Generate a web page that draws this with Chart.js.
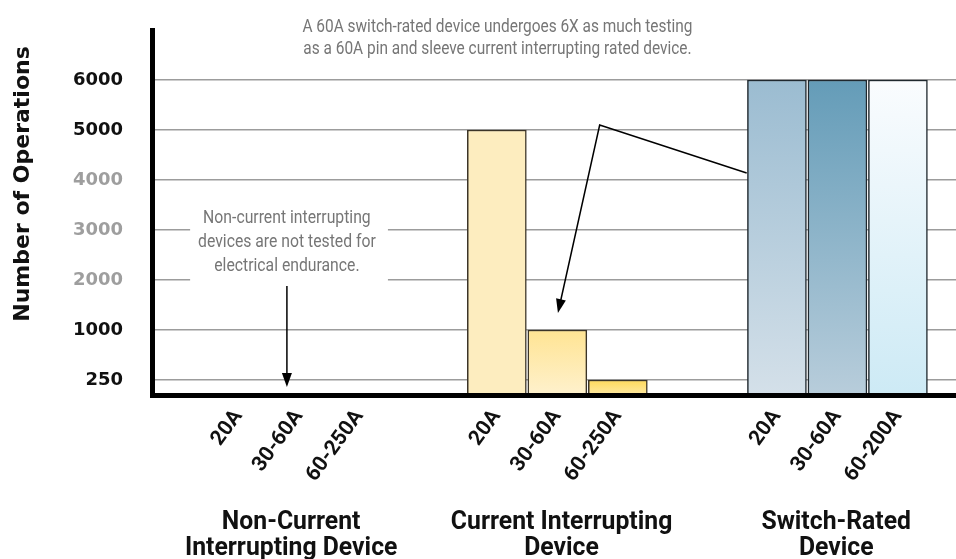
<!DOCTYPE html>
<html>
<head>
<meta charset="utf-8">
<script src="https://cdn.jsdelivr.net/npm/chart.js@4.4.1/dist/chart.umd.min.js"></script>
<style>
    html, body { margin: 0; padding: 0; background: #fff; }
    #opsChart { display: block; }
</style>
</head>
<body>
<canvas id="opsChart" width="956" height="559"></canvas>
<script>

// DATA
const groupTitles = [
    ["Non-Current", "Interrupting Device"],
    ["Current Interrupting", "Device"],
    ["Switch-Rated", "Device"]
]
const nonCurrentRatings = ["20A", "30-60A", "60-250A"]
const currentRatings = ["20A", "30-60A", "60-250A"]
const switchRatings = ["20A", "30-60A", "60-200A"]

const nonCurrentOps = [0, 0, 0]
const currentOps = [5000, 1000, 250]
const switchOps = [6000, 6000, 6000]

const yTickValues = [250, 1000, 2000, 3000, 4000, 5000, 6000]

const topNote = [
    "A 60A switch-rated device undergoes 6X as much testing",
    "as a 60A pin and sleeve current interrupting rated device."
]
const leftNote = [
    "Non-current interrupting",
    "devices are not tested for",
    "electrical endurance."
]

// LAYOUT (x in bar slots, y in tick steps)
const GROUP_START = [1.43, 5.70, 10.33]
const TITLE_X = [2.30, 6.77, 11.31]
const X_MAX = 13.29
const Y_MIN = -0.3
const Y_MAX = 7

const yTickColors = ["#111", "#111", "#9e9e9e", "#9e9e9e", "#9e9e9e", "#111", "#111"]

const barTop = [
    "#ffffff", "#ffffff", "#ffffff",
    "#fdedbf", "#ffe493", "#ffd95a",
    "#9bbcd1", "#649cb8", "#fafcfe"
]
const barBottom = [
    "#ffffff", "#ffffff", "#ffffff",
    "#fdedbf", "#fef1cd", "#fee9a3",
    "#d4e0e9", "#b8cddb", "#cdeaf5"
]
const barBorder = [
    "#333", "#333", "#333",
    "#3b3428", "#3b3428", "#3b3428",
    "#1f282e", "#1f282e", "#1f282e"
]

// the axis is not linear: 250 sits on the first grid line
function toPos(v) {

    const xs = [0, ...yTickValues]
    const ys = [Y_MIN, ...yTickValues.map((_, i) => i)]

    if (v <= xs[0]) return ys[0]

    for (let i = 1; i < xs.length; i++) {
        if (v <= xs[i]) {
            return ys[i - 1] +
                (v - xs[i - 1]) / (xs[i] - xs[i - 1]) * (ys[i] - ys[i - 1])
        }
    }

    return ys[ys.length - 1]
}

const groups = [
    { ratings: nonCurrentRatings, ops: nonCurrentOps },
    { ratings: currentRatings, ops: currentOps },
    { ratings: switchRatings, ops: switchOps }
]

const bars = []

groups.forEach((g, gi) => {
    g.ratings.forEach((rating, j) => {
        bars.push({
            x: GROUP_START[gi] + j,
            y: toPos(g.ops[j]),
            label: rating
        })
    })
})

function hasFont(name) {
    const c = document.createElement("canvas").getContext("2d")
    const sample = "abcdefghijklmnop0123456789"
    c.font = "40px monospace"
    const a = c.measureText(sample).width
    c.font = `40px "${name}", monospace`
    const b = c.measureText(sample).width
    return a !== b
}

const NARROW = hasFont("Liberation Sans Narrow")
    ? { family: "Liberation Sans Narrow", squeeze: 1 }
    : { family: "Roboto", squeeze: 0.9 }

function drawText(ctx, text, x, y, size, weight, color, squeeze) {
    ctx.save()
    ctx.font = `${weight} ${size}px "${NARROW.family}", sans-serif`
    ctx.fillStyle = color
    ctx.textAlign = "center"
    ctx.textBaseline = "middle"
    ctx.translate(x, y)
    ctx.scale(squeeze, 1)
    ctx.fillText(text, 0, 0)
    ctx.restore()
}

function arrowHead(ctx, x1, y1, x2, y2) {
    const a = Math.atan2(y2 - y1, x2 - x1)
    const len = 14
    const half = 5
    ctx.beginPath()
    ctx.moveTo(x2, y2)
    ctx.lineTo(x2 - len * Math.cos(a) + half * Math.sin(a), y2 - len * Math.sin(a) - half * Math.cos(a))
    ctx.lineTo(x2 - len * Math.cos(a) - half * Math.sin(a), y2 - len * Math.sin(a) + half * Math.cos(a))
    ctx.closePath()
    ctx.fill()
}

const notesPlugin = {
    id: "notes",

    beforeDatasetsDraw(chart) {
        const { ctx, scales: { x, y } } = chart
        // white box under the left note, hides grid lines
        ctx.save()
        ctx.fillStyle = "#fff"
        const l = x.getPixelForValue(0.63)
        const r = x.getPixelForValue(3.90)
        const t = y.getPixelForValue(3.6)
        const b = y.getPixelForValue(1.96)
        ctx.fillRect(l, t, r - l, b - t)
        ctx.restore()
    },

    afterDraw(chart) {
        const { ctx, scales: { x, y } } = chart

        // left note
        const nx = x.getPixelForValue(2.23)
        leftNote.forEach((line, i) => {
            drawText(ctx, line, nx, y.getPixelForValue(3.22 - i * 0.48), 17.5, "normal", "#767676", NARROW.squeeze * 1.0)
        })

        // top note
        const tx = x.getPixelForValue(5.71)
        topNote.forEach((line, i) => {
            drawText(ctx, line, tx, y.getPixelForValue(7.04 - i * 0.44), 17.5, "normal", "#767676", NARROW.squeeze * 0.98)
        })

        ctx.save()
        ctx.strokeStyle = "#000"
        ctx.fillStyle = "#000"
        ctx.lineWidth = 1.5

        // left arrow
        const ay1 = y.getPixelForValue(1.88)
        const ay2 = y.getPixelForValue(-0.14)
        ctx.beginPath()
        ctx.moveTo(nx, ay1)
        ctx.lineTo(nx, ay2 - 6)
        ctx.stroke()
        arrowHead(ctx, nx, ay1, nx, ay2)

        // callout from switch-rated bars to the 30-60A bar
        const vx = x.getPixelForValue(7.40)
        const vy = y.getPixelForValue(5.10)
        const ex = x.getPixelForValue(GROUP_START[2] - 0.5)
        const ey = y.getPixelForValue(4.14)
        const px = x.getPixelForValue(6.71)
        const py = y.getPixelForValue(1.34)
        ctx.beginPath()
        ctx.moveTo(ex, ey)
        ctx.lineTo(vx, vy)
        ctx.lineTo(px + (vx - px) * 0.06, py + (vy - py) * 0.06)
        ctx.stroke()
        arrowHead(ctx, vx, vy, px, py)
        ctx.restore()

        // axis title
        ctx.save()
        ctx.translate(y.left + 23, y.getPixelForValue(3.92))
        ctx.rotate(-Math.PI / 2)
        ctx.font = "bold 22px 'DejaVu Sans', sans-serif"
        ctx.fillStyle = "#111"
        ctx.textAlign = "center"
        ctx.textBaseline = "middle"
        ctx.fillText("Number of Operations", 0, 0)
        ctx.restore()

        // group titles under the rotated ratings
        groupTitles.forEach((lines, gi) => {
            const cx = x.getPixelForValue(TITLE_X[gi])
            lines.forEach((line, i) => {
                drawText(ctx, line, cx, x.top + 128 + i * 25.5, 25, "bold", "#111", NARROW.squeeze * 1.1)
            })
        })
    }
}

function barFill(ctx) {
    const i = ctx.dataIndex
    const chart = ctx.chart
    if (!chart.chartArea || ctx.type !== "data") return barBottom[i]
    const ys = chart.scales.y
    const top = ys.getPixelForValue(bars[i].y)
    const bottom = ys.getPixelForValue(Y_MIN)
    if (bottom - top < 1) return barBottom[i]
    const g = chart.ctx.createLinearGradient(0, top, 0, bottom)
    g.addColorStop(0, barTop[i])
    g.addColorStop(1, barBottom[i])
    return g
}

const opsChart = new Chart(
    document.getElementById("opsChart"),
    {
        type: "bar",

        data: {
            datasets: [{
                data: bars.map(b => ({ x: b.x, y: b.y })),
                base: Y_MIN,
                backgroundColor: barFill,
                borderColor: barBorder,
                borderWidth: 1.5,
                borderSkipped: "bottom",
                barThickness: 59
            }]
        },

        options: {
            responsive: false,
            devicePixelRatio: 1,
            animation: false,
            layout: {
                padding: { top: 30, left: 0, right: 0, bottom: 0 }
            },
            plugins: {
                legend: { display: false },
                tooltip: { enabled: false }
            },
            scales: {
                x: {
                    type: "linear",
                    offset: false,
                    bounds: "data",
                    min: 0,
                    max: X_MAX,
                    afterBuildTicks: s => {
                        s.ticks = bars.map(b => ({ value: b.x }))
                    },
                    afterFit: s => {
                        s.height = 164
                        s.paddingLeft = 0
                        s.paddingRight = 0
                    },
                    grid: { display: false },
                    border: { display: true, color: "#000", width: 5, z: 1 },
                    ticks: {
                        autoSkip: false,
                        minRotation: 54,
                        maxRotation: 54,
                        padding: 2,
                        color: "#111",
                        font: { family: NARROW.family, weight: "bold", size: 21 },
                        callback: (v, i) => bars[i] ? bars[i].label : ""
                    }
                },
                y: {
                    type: "linear",
                    min: Y_MIN,
                    max: Y_MAX,
                    afterBuildTicks: s => {
                        s.ticks = yTickValues.map((_, i) => ({ value: i }))
                    },
                    afterFit: s => {
                        s.width = 152
                        s.paddingTop = 0
                        s.paddingBottom = 0
                    },
                    grid: {
                        color: "#9c9c9c",
                        lineWidth: 1.5,
                        drawTicks: false
                    },
                    border: { display: true, color: "#000", width: 5, z: 1 },
                    ticks: {
                        padding: 29,
                        color: c => yTickColors[c.index],
                        font: { family: "DejaVu Sans", weight: "bold", size: 18 },
                        callback: (v, i) => String(yTickValues[i])
                    }
                }
            }
        },

        plugins: [notesPlugin]
    }
)
</script>
</body>
</html>
